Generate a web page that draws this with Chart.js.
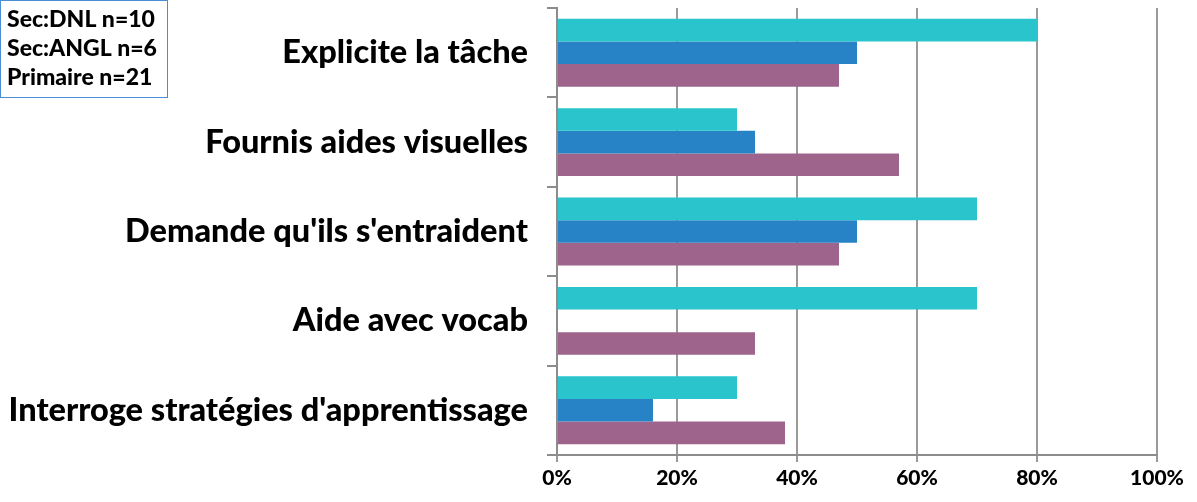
<!DOCTYPE html>
<html>
<head>
<meta charset="utf-8">
<script src="https://cdn.jsdelivr.net/npm/chart.js@4"></script>
<style>
  html, body { margin: 0; padding: 0; background: #fff; }
  #wrap { width: 1197px; height: 502px; position: relative; }
</style>
</head>
<body>
<div id="wrap"><canvas id="chart"></canvas></div>
<script>
// Data (percent)
const categories = [
    'Explicite la tâche',
    'Fournis aides visuelles',
    "Demande qu'ils s'entraident",
    'Aide avec vocab',
    "Interroge stratégies d'apprentissage"
];
const seriesNames = ['Sec:DNL n=10', 'Sec:ANGL n=6', 'Primaire n=21'];
const secDnl = [80, 30, 70, 70, 30];
const secAngl = [50, 33, 50, 0, 16];
const primaire = [47, 57, 47, 33, 38];
const xTicks = [0, 20, 40, 60, 80, 100];

const colors = ['#29C4CC', '#2882C6', '#9E648C'];
const fontFamily = 'Lato, "Open Sans", sans-serif';

// text-only legend box in the top left corner
const textLegend = {
    id: 'textLegend',
    afterDraw(chart) {
        const ctx = chart.ctx;
        ctx.save();
        ctx.strokeStyle = '#4A8FD6';
        ctx.lineWidth = 1;
        ctx.strokeRect(0.5, 0.5, 167, 97);
        ctx.fillStyle = '#000';
        ctx.font = '900 23px ' + fontFamily;
        ctx.textBaseline = 'middle';
        chart.data.datasets.forEach((ds, i) => {
            ctx.fillText(ds.label, 7, 20 + i * 29);
        });
        ctx.restore();
    }
};

new Chart(document.getElementById('chart'), {
    type: 'bar',
    data: {
        labels: categories,
        datasets: [
            { label: seriesNames[0], data: secDnl, backgroundColor: colors[0] },
            { label: seriesNames[1], data: secAngl, backgroundColor: colors[1] },
            { label: seriesNames[2], data: primaire, backgroundColor: colors[2] }
        ]
    },
    options: {
        indexAxis: 'y',
        responsive: true,
        maintainAspectRatio: false,
        animation: false,
        layout: { padding: { top: 8, right: 40, left: 0, bottom: 0 } },
        datasets: {
            bar: { categoryPercentage: 0.76, barPercentage: 1.0 }
        },
        plugins: {
            legend: { display: false },
            tooltip: { enabled: false }
        },
        scales: {
            x: {
                min: 0,
                max: 100,
                afterBuildTicks(scale) {
                    scale.ticks = xTicks.map(v => ({ value: v }));
                },
                afterFit(scale) { scale.height = 47; },
                grid: {
                    color: '#9A9A9A',
                    lineWidth: 2,
                    tickLength: 7,
                    drawTicks: true
                },
                border: { display: true, color: '#8C8C8C', width: 2 },
                ticks: {
                    padding: 4,
                    color: '#000',
                    font: { family: fontFamily, size: 21, weight: 900 },
                    callback: v => v + '%'
                }
            },
            y: {
                afterFit(scale) {
                    scale.width = 557;
                    scale.paddingTop = 0;
                    scale.paddingBottom = 0;
                },
                grid: {
                    offset: true,
                    drawOnChartArea: false,
                    color: '#8C8C8C',
                    lineWidth: 2,
                    tickLength: 10
                },
                border: { display: true, color: '#8C8C8C', width: 2 },
                ticks: {
                    padding: 19,
                    color: '#000',
                    font: { family: fontFamily, size: 32.5, weight: 900 }
                }
            }
        }
    },
    plugins: [textLegend]
});
</script>
</body>
</html>
